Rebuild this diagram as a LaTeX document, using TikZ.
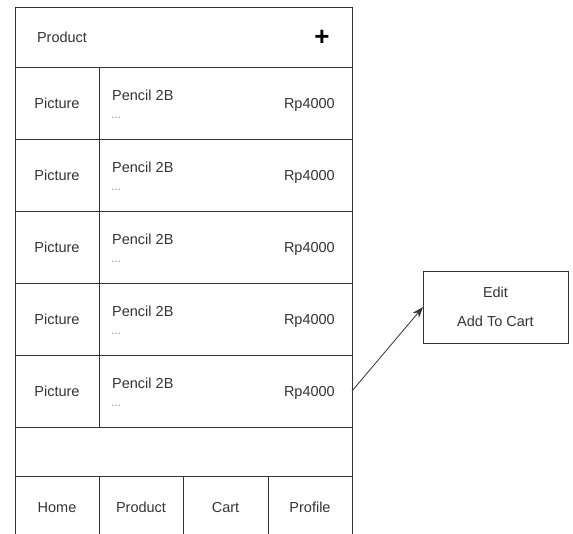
\documentclass[tikz,border=0pt]{standalone}
\usepackage{fontspec}
\setmainfont{Liberation Sans}
\usetikzlibrary{calc,arrows.meta,positioning}

\definecolor{linegray}{HTML}{333333}
\definecolor{textgray}{HTML}{333333}
\definecolor{dotgray}{HTML}{999999}

\tikzset{
	cell/.style={draw=linegray, line width=0.9pt, inner sep=0pt, outer sep=0pt,
		anchor=north west, minimum height=72pt, text=textgray,
		text height=10pt, text depth=0pt},
	txt/.style={inner sep=0pt, text=textgray, text height=10pt, text depth=0pt},
	dots/.style={inner sep=0pt, text=dotgray, font=\fontsize{12}{12}\selectfont},
}

\begin{document}
\begin{tikzpicture}[x=1pt, y=-1pt, font=\fontsize{14.5}{16}\selectfont]

	\clip (0,0) rectangle (573,533);

	% header bar
	\node[cell, minimum width=337pt, minimum height=60pt] (header) at (15,7) {};
	\node[txt] (title) at (62,37) {Product};
	\node[inner sep=0pt, text=black, font=\fontsize{26}{26}\selectfont\bfseries] (plus) at (322,38) {+};

	% product rows
	\foreach \i in {1,...,5} {
		\node[cell, minimum width=84pt] (pic\i) at (15,{67+72*(\i-1)}) {Picture};
		\node[cell, minimum width=253pt] (info\i) at (99,{67+72*(\i-1)}) {};
		\node[txt, anchor=west] (name\i) at ($(info\i.north west)+(13,28)$) {Pencil 2B};
		\node[dots, anchor=west] (desc\i) at ($(info\i.north west)+(12,51)$) {...};
		\node[txt, anchor=east] (price\i) at ($(info\i.east)+(-17,0)$) {Rp4000};
	}

	% empty row
	\node[cell, minimum width=337pt, minimum height=49pt] (spacer) at (15,427) {};

	% navigation bar
	\node[cell, minimum width=84pt, minimum height=62pt] (home) at (15,476) {Home};
	\node[cell, minimum width=84pt, minimum height=62pt, right=0pt of home.north east, anchor=north west] (product) {Product};
	\node[cell, minimum width=85pt, minimum height=62pt, right=0pt of product.north east, anchor=north west] (cart) {Cart};
	\node[cell, minimum width=84pt, minimum height=62pt, right=0pt of cart.north east, anchor=north west] (profile) {Profile};

	% popup menu
	\node[cell, anchor=center, minimum width=145pt, minimum height=72pt, align=center,
		text height=, text depth=, font=\fontsize{14.5}{29}\selectfont] (menu) at (495.5,307) {Edit\\Add To Cart};

	\draw[linegray, line width=0.8pt, -{Stealth[length=11pt, width=8pt]}] (info5.east) -- (menu.west);

\end{tikzpicture}
\end{document}
